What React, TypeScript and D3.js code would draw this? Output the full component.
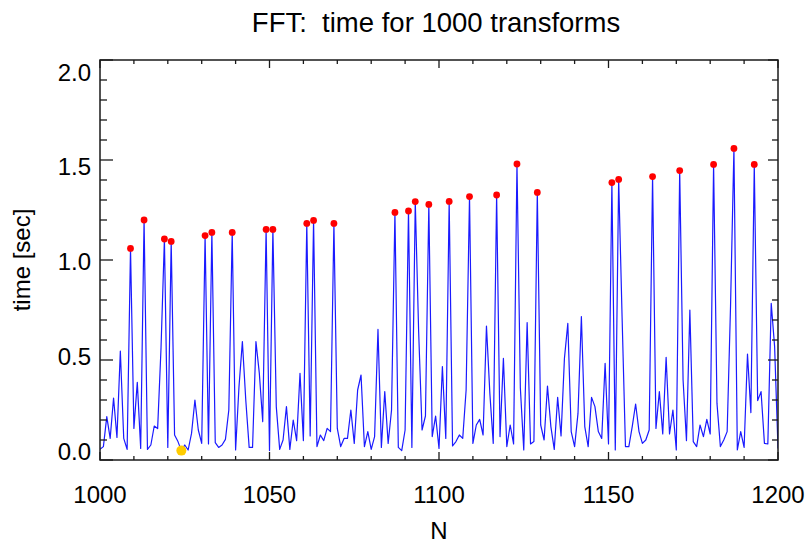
import React from "react";
import * as d3 from "d3";

const startN = 1000;
const times: number[] = [
  0.053, 0.067, 0.217, 0.108, 0.31, 0.113, 0.545, 0.108, 0.053, 1.058,
  0.158, 0.388, 0.058, 1.2, 0.053, 0.075, 0.17, 0.157, 0.56, 1.105,
  0.063, 1.093, 0.125, 0.092, 0.047, 0.075, 0.05, 0.133, 0.3, 0.15,
  0.083, 1.122, 0.08, 1.138, 0.087, 0.063, 0.075, 0.103, 0.25, 1.138,
  0.05, 0.367, 0.592, 0.3, 0.063, 0.063, 0.592, 0.433, 0.192, 1.153,
  0.047, 1.153, 0.267, 0.053, 0.1, 0.267, 0.053, 0.2, 0.097, 0.433,
  0.097, 1.183, 0.12, 1.198, 0.067, 0.125, 0.097, 0.158, 0.142, 1.183,
  0.158, 0.067, 0.108, 0.108, 0.25, 0.083, 0.35, 0.425, 0.067, 0.142,
  0.053, 0.117, 0.653, 0.063, 0.342, 0.083, 0.25, 1.238, 0.063, 0.047,
  0.15, 1.245, 0.063, 1.292, 0.64, 0.15, 0.22, 1.278, 0.117, 0.22,
  0.058, 0.467, 0.108, 1.293, 0.07, 0.092, 0.125, 0.108, 0.35, 1.317,
  0.083, 0.175, 0.203, 0.125, 0.67, 0.333, 0.083, 1.325, 0.117, 0.508,
  0.067, 0.175, 0.08, 1.48, 0.36, 0.05, 0.687, 0.08, 0.092, 1.338,
  0.175, 0.1, 0.37, 0.167, 0.053, 0.313, 0.12, 0.508, 0.683, 0.142,
  0.067, 0.233, 0.717, 0.167, 0.067, 0.313, 0.267, 0.142, 0.108, 0.483,
  0.08, 1.387, 0.05, 1.403, 0.72, 0.067, 0.067, 0.167, 0.28, 0.142,
  0.083, 0.1, 0.15, 1.417, 0.158, 0.342, 0.13, 0.513, 0.13, 0.25,
  0.05, 1.447, 0.4, 0.097, 0.75, 0.092, 0.067, 0.175, 0.117, 0.203,
  0.13, 1.478, 0.283, 0.067, 0.1, 0.142, 0.77, 1.558, 0.05, 0.142,
  0.063, 0.53, 0.237, 1.478, 0.297, 0.342, 0.083, 0.08, 0.783, 0.567,
  0.058,
];
const primeNs: number[] = [
  1009, 1013, 1019, 1021, 1031, 1033, 1039, 1049, 1051, 1061, 1063, 1069,
  1087, 1091, 1093, 1097, 1103, 1109, 1117, 1123, 1129, 1151, 1153, 1163,
  1171, 1181, 1187, 1193,
];
const powerOfTwoNs: number[] = [1024];
const xTicks: number[] = [1000, 1050, 1100, 1150, 1200];
const yTicks: number[] = [0, 0.5, 1.0, 1.5, 2.0];
const title = "FFT:  time for 1000 transforms";
const xTitle = "N";
const yTitle = "time [sec]";

const W = 806;
const H = 544;
const left = 100;
const right = 778;
const top = 60;
const bottom = 460;
const font = "'Liberation Sans', Arial, Helvetica, sans-serif";

export default function App() {
  const data = times.map((t, i) => ({ n: startN + i, t }));
  const x = d3.scaleLinear().domain([1000, 1200]).range([left, right]);
  const y = d3.scaleLinear().domain([0, 2]).range([bottom, top]);
  const yLab = d3.scaleLinear().domain([0, 2]).range([451, 72]);
  const line = d3
    .line<{ n: number; t: number }>()
    .x((d) => x(d.n))
    .y((d) => y(d.t));
  const xMinor = d3.range(1000, 1201, 10).filter((v) => v % 50 !== 0);
  const yMinor = d3.range(0, 21).map((v) => v / 10).filter((v) => Math.round(v * 10) % 5 !== 0);
  const valueAt = (n: number) => times[n - startN];
  const ax = "#1a1a1a";

  return (
    <svg
      width={W}
      height={H}
      style={{ position: "absolute", left: 0, top: 0, background: "#fff" }}
      fontFamily={font}
    >
      <rect x={0} y={0} width={W} height={H} fill="#fff" />
      <defs>
        <clipPath id="plot">
          <rect x={left} y={top} width={right - left} height={bottom - top} />
        </clipPath>
      </defs>
      <path
        d={line(data) || ""}
        fill="none"
        stroke="#1a1aff"
        strokeWidth={1.2}
        strokeLinejoin="round"
        clipPath="url(#plot)"
      />
      {primeNs.map((n) => (
        <circle key={n} cx={x(n)} cy={y(valueAt(n))} r={3.4} fill="#ff0000" />
      ))}
      {powerOfTwoNs.map((n) => (
        <circle key={n} cx={x(n)} cy={y(valueAt(n))} r={5} fill="#ffcc00" />
      ))}
      <rect
        x={left}
        y={top}
        width={right - left}
        height={bottom - top}
        fill="none"
        stroke={ax}
        strokeWidth={1.5}
      />
      {xTicks.map((v) => (
        <g key={"xt" + v}>
          <line x1={x(v)} x2={x(v)} y1={bottom} y2={bottom - 8} stroke={ax} strokeWidth={1.3} />
          <line x1={x(v)} x2={x(v)} y1={top} y2={top + 8} stroke={ax} strokeWidth={1.3} />
          <text x={x(v)} y={503} textAnchor="middle" fontSize={24} fill="#000">
            {v}
          </text>
        </g>
      ))}
      {xMinor.map((v) => (
        <g key={"xm" + v}>
          <line x1={x(v)} x2={x(v)} y1={bottom} y2={bottom - 4} stroke={ax} strokeWidth={1.3} />
          <line x1={x(v)} x2={x(v)} y1={top} y2={top + 4} stroke={ax} strokeWidth={1.3} />
        </g>
      ))}
      {yTicks.map((v) => (
        <g key={"yt" + v}>
          <line x1={left} x2={left + 13} y1={y(v)} y2={y(v)} stroke={ax} strokeWidth={1.3} />
          <line x1={right} x2={right - 10} y1={y(v)} y2={y(v)} stroke={ax} strokeWidth={1.3} />
          <text x={91} y={yLab(v) + 8.5} textAnchor="end" fontSize={24} fill="#000">
            {v.toFixed(1)}
          </text>
        </g>
      ))}
      {yMinor.map((v) => (
        <g key={"ym" + v}>
          <line x1={left} x2={left + 7} y1={y(v)} y2={y(v)} stroke={ax} strokeWidth={1.3} />
          <line x1={right} x2={right - 6} y1={y(v)} y2={y(v)} stroke={ax} strokeWidth={1.3} />
        </g>
      ))}
      <text
        x={436}
        y={32}
        textAnchor="middle"
        fontSize={27.5}
        fill="#000"
        style={{ whiteSpace: "pre" }}
      >
        {title}
      </text>
      <text x={439} y={539} textAnchor="middle" fontSize={24} fill="#000">
        {xTitle}
      </text>
      <text
        transform={`translate(30, 260) rotate(-90)`}
        textAnchor="middle"
        fontSize={24}
        fill="#000"
      >
        {yTitle}
      </text>
    </svg>
  );
}
